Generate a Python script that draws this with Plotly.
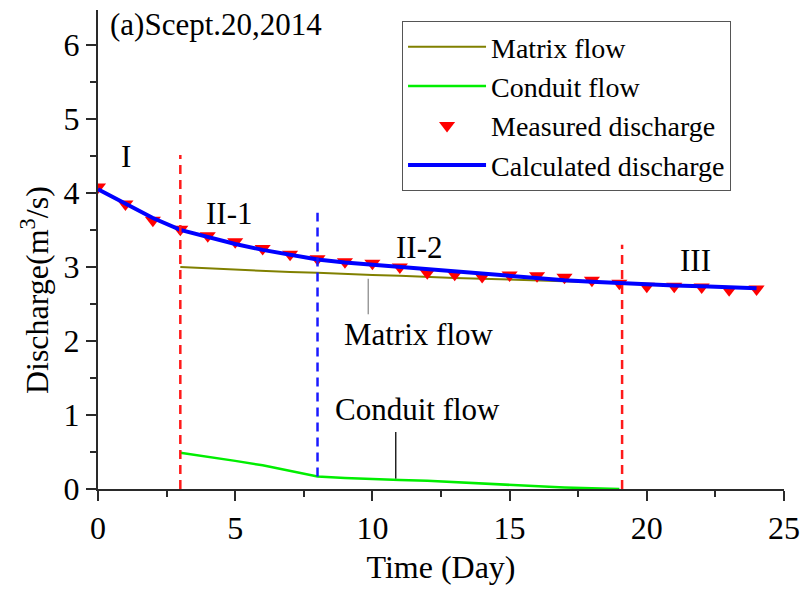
import plotly.graph_objects as go

# ---- data -------------------------------------------------------------
days = list(range(25))
measured_q = [4.08, 3.85, 3.63, 3.51, 3.42, 3.34, 3.25, 3.17, 3.11, 3.07,
              3.05, 3.00, 2.92, 2.90, 2.87, 2.89, 2.88, 2.86, 2.82, 2.78,
              2.74, 2.74, 2.73, 2.69, 2.70]
calculated_q = [4.05, 3.85, 3.66, 3.50, 3.40, 3.31, 3.23, 3.16, 3.10, 3.06,
                3.03, 2.99, 2.96, 2.93, 2.90, 2.87, 2.85, 2.82, 2.80, 2.78,
                2.76, 2.75, 2.74, 2.72, 2.71]

matrix_days = list(range(3, 25))
matrix_q = [3.00, 2.98, 2.96, 2.95, 2.93, 2.92, 2.90, 2.89, 2.88, 2.86, 2.85,
            2.84, 2.83, 2.82, 2.80, 2.79, 2.78, 2.77, 2.76, 2.74, 2.73, 2.72]

conduit_days = list(range(3, 20))
conduit_q = [0.49, 0.44, 0.38, 0.32, 0.25, 0.17, 0.15, 0.13, 0.12, 0.11,
             0.09, 0.07, 0.05, 0.04, 0.02, 0.01, 0.00]

# recession stage boundaries: day, lower and upper end of the marker line
stage_breaks = [3.0, 8.0, 19.1]
stage_break_low = [0.0, 0.17, 0.0]
stage_break_high = [4.51, 3.73, 3.30]
stage_break_colors = ["#ff1a1a", "#1a1aff", "#ff1a1a"]

stage_labels = ["I", "II-1", "II-2", "III"]
stage_label_x = [1.03, 4.78, 11.7, 21.76]
stage_label_y = [4.49, 3.72, 3.26, 3.08]

FONT = "Liberation Serif, Times New Roman, serif"

fig = go.Figure()

fig.add_trace(go.Scatter(
    x=matrix_days, y=matrix_q, mode="lines", name="Matrix flow",
    line=dict(color="#808000", width=2)))
fig.add_trace(go.Scatter(
    x=conduit_days, y=conduit_q, mode="lines", name="Conduit flow",
    line=dict(color="#00ee00", width=2.5)))
fig.add_trace(go.Scatter(
    x=days, y=measured_q, mode="markers", name="Measured discharge",
    marker=dict(symbol="triangle-down", color="#ff0000", size=14)))
fig.add_trace(go.Scatter(
    x=days, y=calculated_q, mode="lines", name="Calculated discharge",
    line=dict(color="#0000ff", width=4)))

# dashed stage boundaries
for xb, lo, hi, col in zip(stage_breaks, stage_break_low, stage_break_high,
                           stage_break_colors):
    fig.add_shape(type="line", xref="x", yref="y", x0=xb, x1=xb, y0=lo, y1=hi,
                  line=dict(color=col, width=2.5, dash="9px,6px"))

# leader lines for the in-plot labels
fig.add_shape(type="line", xref="x", yref="y", x0=9.85, x1=9.85, y0=2.36,
              y1=2.84, line=dict(color="#9a9a9a", width=1.5))
fig.add_shape(type="line", xref="x", yref="y", x0=10.85, x1=10.85, y0=0.14,
              y1=0.77, line=dict(color="#222222", width=1.5))

for txt, xx, yy in zip(stage_labels, stage_label_x, stage_label_y):
    fig.add_annotation(x=xx, y=yy, text=txt, showarrow=False,
                       font=dict(family=FONT, size=31, color="black"))

fig.add_annotation(x=11.7, y=2.09, text="Matrix flow", showarrow=False,
                   font=dict(family=FONT, size=31, color="black"))
fig.add_annotation(x=11.63, y=1.07, text="Conduit flow", showarrow=False,
                   font=dict(family=FONT, size=31, color="black"))
fig.add_annotation(x=0.38, y=6.27, text="(a)Scept.20,2014", showarrow=False,
                   xanchor="left", font=dict(family=FONT, size=31, color="black"))

# y-axis title, placed as rotated text beside the axis
fig.add_annotation(xref="paper", yref="paper", x=-0.092, y=0.415,
                   text="Discharge(m<sup>3</sup>/s)", textangle=-90,
                   showarrow=False, xanchor="center", yanchor="middle",
                   font=dict(family=FONT, size=32, color="black"))

axis_common = dict(
    showline=True, linecolor="#2a2a2a", linewidth=2,
    ticks="outside", ticklen=10, tickwidth=2, tickcolor="#2a2a2a",
    showgrid=False, zeroline=False, mirror=False,
    tickfont=dict(family=FONT, size=32, color="black"),
)

fig.update_xaxes(
    range=[0, 25], tick0=0, dtick=5,
    minor=dict(ticks="outside", dtick=2.5, ticklen=6, tickwidth=2,
               tickcolor="#2a2a2a"),
    title=dict(text="Time (Day)", font=dict(family=FONT, size=32, color="black"),
               standoff=10),
    **axis_common)
fig.update_yaxes(
    range=[0, 6.47], tick0=0, dtick=1,
    minor=dict(ticks="outside", dtick=0.5, ticklen=6, tickwidth=2,
               tickcolor="#2a2a2a"),
    **axis_common)

fig.update_layout(
    width=810, height=590,
    margin=dict(l=98, r=18, t=10, b=101),
    paper_bgcolor="white", plot_bgcolor="white",
    showlegend=True,
    legend=dict(
        x=0.683, y=0.977, xanchor="center", yanchor="top",
        bgcolor="white", bordercolor="#555555", borderwidth=1,
        font=dict(family=FONT, size=28, color="black"),
        itemwidth=78, tracegroupgap=0,
    ),
)

fig.write_html("out.html")
